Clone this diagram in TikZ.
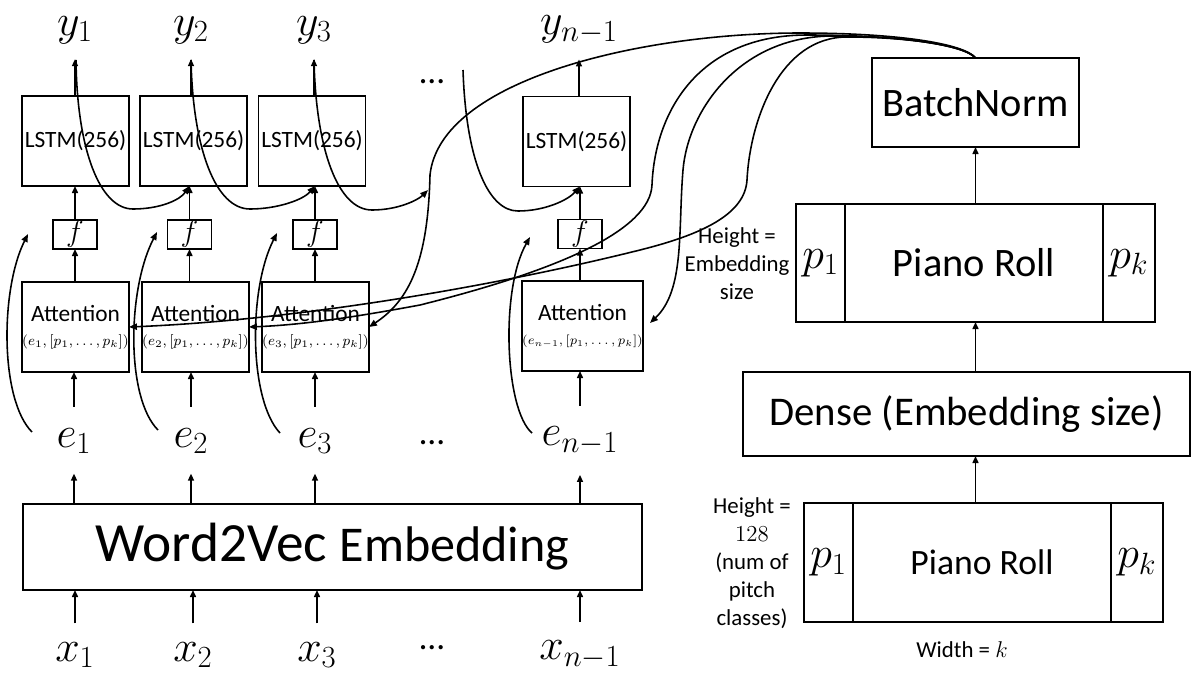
\RequirePackage{fix-cm}
\documentclass[tikz,border=0pt]{standalone}
\usepackage{fontspec}
\setmainfont{Carlito}
\usetikzlibrary{arrows.meta}
\newcommand{\fsz}[2]{\fontsize{#1}{#2}\selectfont}
\begin{document}
\begin{tikzpicture}[x=0.02cm,y=-0.02cm,
  bx/.style={draw,line width=1pt,inner sep=0pt,outer sep=0pt,align=center},
  lstm/.style={bx,minimum width=2.14cm,minimum height=1.8cm,font=\fsz{13.3}{15}},
  fb/.style={bx,minimum width=0.88cm,minimum height=0.58cm,font=\fsz{17}{20}},
  att/.style={bx,minimum width=2.14cm,minimum height=1.8cm,font=\fsz{13.3}{13.6}},
  lab/.style={inner sep=0pt,font=\fsz{25}{30}},
  arr/.style={line width=0.9pt,-{Triangle[length=4pt,width=3.4pt]}},
  crv/.style={line width=0.9pt,-{Triangle[length=4.5pt,width=3.6pt]}},
  side/.style={inner sep=0pt,align=center,font=\fsz{13}{15.9}},
  dts/.style={inner sep=0pt,font=\fsz{20}{24}}
]
\useasboundingbox (0,0) rectangle (1198,677);

% output labels
\node[lab] (y1) at (75,30) {$y_1$};
\node[lab] (y2) at (191,30) {$y_2$};
\node[lab] (y3) at (314,30) {$y_3$};
\node[lab] (yn) at (579,30) {$y_{n-1}$};

% LSTM boxes
\node[lstm] (L1) at (75.5,141) {LSTM(256)};
\node[lstm] (L2) at (193.5,141) {LSTM(256)};
\node[lstm] (L3) at (312,141) {LSTM(256)};
\node[lstm] (L4) at (576.5,141.5) {LSTM(256)};

% f boxes
\node[fb] (F1) at (75,234.5) {$f$};
\node[fb] (F2) at (189.5,234.5) {$f$};
\node[fb] (F3) at (315,234.5) {$f$};
\node[fb] (F4) at (580,234) {$f$};

% attention boxes
\node[att] (A1) at (75.5,327) {Attention\\{\fsz{8.1}{13.6}$(e_1,[p_1,\ldots,p_k])$}};
\node[att] (A2) at (195.5,327) {Attention\\{\fsz{8.1}{13.6}$(e_2,[p_1,\ldots,p_k])$}};
\node[att] (A3) at (315.5,327) {Attention\\{\fsz{8.1}{13.6}$(e_3,[p_1,\ldots,p_k])$}};
\node[att] (A4) at (582.5,326) {Attention\\{\fsz{7.2}{13.6}$(e_{n-1},[p_1,\ldots,p_k])$}};

% embeddings
\node[lab] (e1) at (74,441) {$e_1$};
\node[lab] (e2) at (191,441) {$e_2$};
\node[lab] (e3) at (315,441) {$e_3$};
\node[lab] (en) at (580,441) {$e_{n-1}$};

% dots
\node[dts] (d1) at (432,82) {…};
\node[dts] (d2) at (432,443) {…};
\node[dts] (d3) at (432,648) {…};

% Word2Vec
\node[bx,minimum width=12.38cm,minimum height=1.72cm] (W) at (332.5,547)
  {{\fsz{31.5}{36}Word2Vec\ }{\fsz{28.5}{30}Embedding}};

% inputs
\node[lab] (x1) at (75,655) {$x_1$};
\node[lab] (x2) at (193,655) {$x_2$};
\node[lab] (x3) at (317,655) {$x_3$};
\node[lab] (xn) at (580,655) {$x_{n-1}$};

% right column
\node[bx,minimum width=4.14cm,minimum height=1.78cm,font=\fsz{23}{28}] (BN) at (975.5,102.5) {BatchNorm};
\node[bx,minimum width=5.16cm,minimum height=2.36cm,font=\fsz{23}{28}] (P1m) at (974,263) {Piano Roll};
\node[bx,minimum width=0.98cm,minimum height=2.36cm,font=\fsz{25}{30},anchor=east] (P1a) at (P1m.west) {$p_1$};
\node[bx,minimum width=1.04cm,minimum height=2.36cm,font=\fsz{25}{30},anchor=west] (P1k) at (P1m.east) {$p_k$};
\node[bx,minimum width=8.94cm,minimum height=1.68cm,font=\fsz{23.2}{28}] (D) at (966.5,414) {Dense (Embedding size)};
\node[bx,minimum width=5.16cm,minimum height=2.38cm,font=\fsz{20.3}{24}] (P2m) at (982,562.5) {Piano Roll};
\node[bx,minimum width=0.98cm,minimum height=2.38cm,font=\fsz{25}{30},anchor=east] (P2a) at (P2m.west) {$p_1$};
\node[bx,minimum width=1.04cm,minimum height=2.38cm,font=\fsz{25}{30},anchor=west] (P2k) at (P2m.east) {$p_k$};
\node[side] (h1) at (737,264) {Height =\\Embedding\\size};
\node[side] (h2) at (752,563) {Height =\\$128$\\(num of\\pitch\\classes)};
\node[side] (wk) at (962,650) {Width = $k$};

% straight arrows, left
\foreach \i/\j in {1/1,2/2,3/3,4/n} {
  \draw[arr,shorten >=0.30cm] (L\i.north -| y\j) -- (y\j.south);
  \draw[arr] (F\i.north) -- (F\i.north |- L\i.south);
  \draw[arr] (A\i.north -| F\i) -- (F\i.south);
  \draw[arr,shorten <=0.42cm] (e\j.north) -- (e\j.north |- A\i.south);
  \draw[arr,shorten >=0.39cm] (W.north -| e\j) -- (e\j.south);
  \draw[arr,shorten <=0.37cm] (x\j.north) -- (x\j.north |- W.south);
}

% straight arrows, right
\draw[arr] (P1m.north -| BN) -- (BN.south);
\draw[arr] (D.north -| BN) -- (BN |- P1m.south);
\draw[arr] (BN |- P2m.north) -- (BN |- D.south);

% recurrent curves
\coordinate (r1s) at (76,60);
\coordinate (r2s) at (191,60);
\coordinate (r3s) at (314,60);
\coordinate (rIn) at (428,190);
\coordinate (r4s) at (463,70);
\draw[crv] (r1s) .. controls (77,150) and (100,209) .. (133,209) .. controls (160,209) and (180,200) .. (F2 |- L2.south);
\draw[crv] (r2s) .. controls (193,150) and (216,209) .. (250,209) .. controls (277,209) and (303,200) .. (F3 |- L3.south);
\draw[crv] (r3s) .. controls (316,150) and (338,210) .. (372,210) .. controls (398,210) and (418,200) .. (rIn);
\draw[crv] (r4s) .. controls (466,160) and (488,211) .. (518,211) .. controls (545,211) and (568,200) .. (F4 |- L4.south);

% embedding side curves
\coordinate (e1s) at (32,432); \coordinate (e1t) at (28,234);
\coordinate (e2s) at (158,430); \coordinate (e2t) at (157,232);
\coordinate (e3s) at (280,433); \coordinate (e3t) at (277,233);
\coordinate (e4s) at (532,433); \coordinate (e4t) at (530,237);
\draw[crv] (e1s) .. controls (0,400) and (0,290) .. (e1t);
\draw[crv] (e2s) .. controls (126,398) and (127,290) .. (e2t);
\draw[crv] (e3s) .. controls (249,400) and (248,290) .. (e3t);
\draw[crv] (e4s) .. controls (505,410) and (500,290) .. (e4t);

% curves from BatchNorm
\coordinate (a4in) at (650,323);
\draw[crv] (BN.north) .. controls (965,44) and (900,33) .. (800,33) .. controls (640,33) and (440,80) .. (430,175) .. controls (428,260) and (410,300) .. (A3.east);
\draw[crv] (BN.north) .. controls (965,45) and (905,36) .. (833,36) .. controls (740,36) and (688,110) .. (683,170) .. controls (678,230) and (685,290) .. (a4in);
\draw[crv] (BN.north) .. controls (965,45) and (900,35) .. (807,35) .. controls (700,35) and (655,110) .. (652,185) .. controls (650,230) and (560,270) .. (420,305) .. controls (350,318) and (300,325) .. (A2.east);
\draw[crv] (BN.north) .. controls (966,46) and (910,37) .. (847,37) .. controls (780,37) and (750,120) .. (747,180) .. controls (745,215) and (700,235) .. (640,250) .. controls (500,285) and (300,320) .. (A1.east);
\end{tikzpicture}
\end{document}
